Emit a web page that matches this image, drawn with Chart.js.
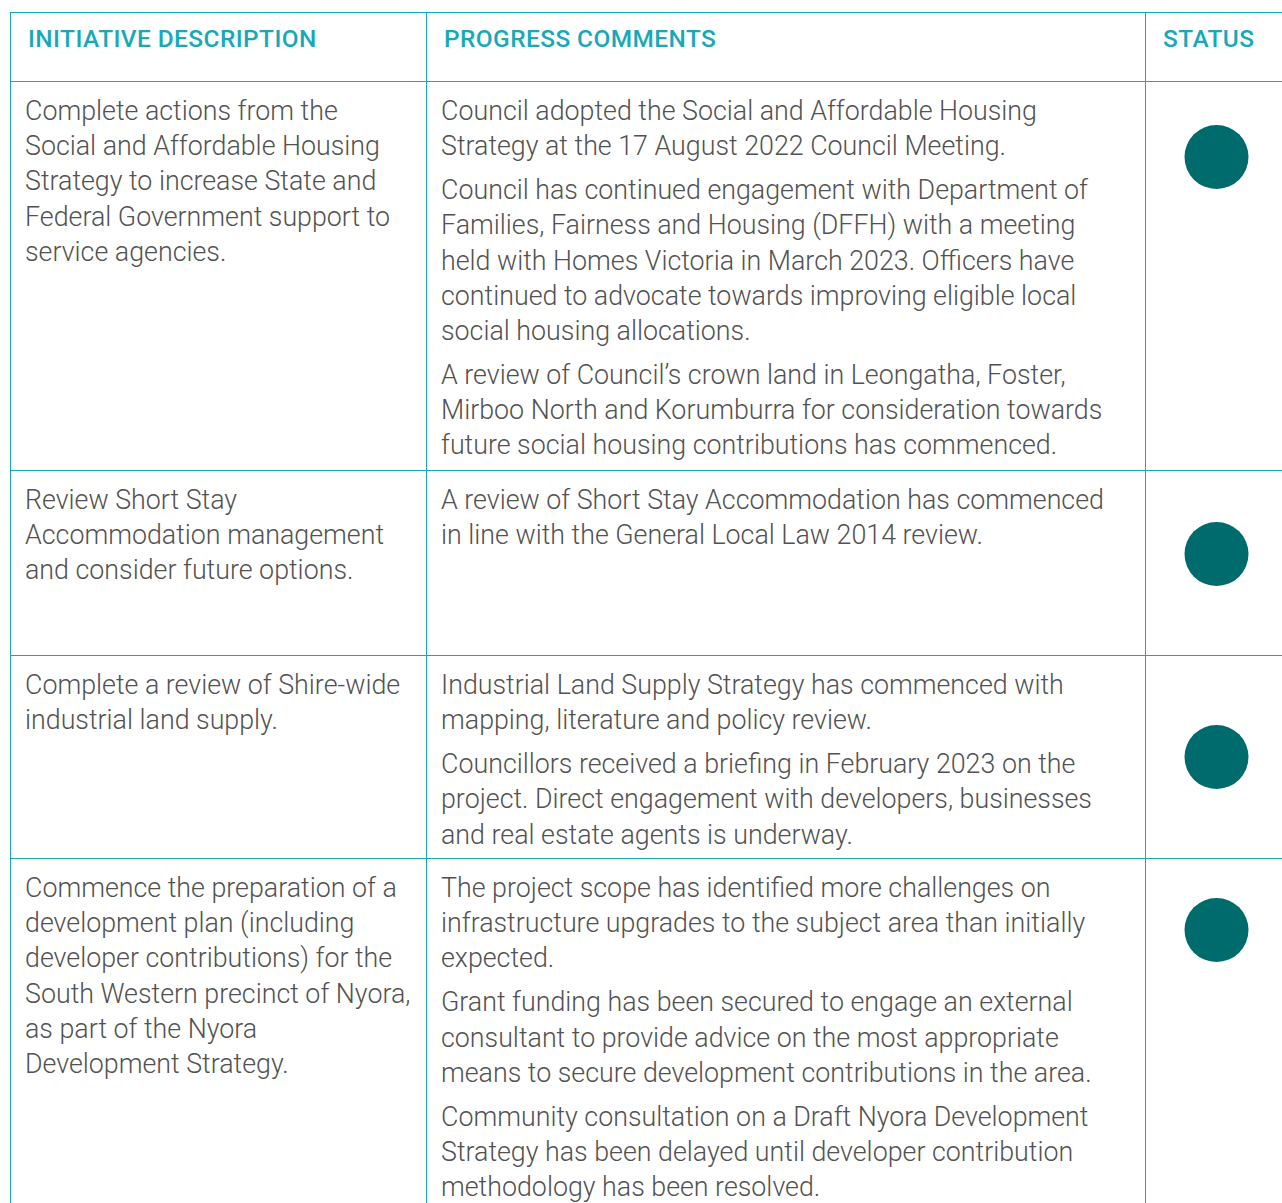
<!DOCTYPE html>
<html>
<head>
<meta charset="utf-8">
<script src="https://cdn.jsdelivr.net/npm/chart.js@4/dist/chart.umd.min.js"></script>
<style>
  html, body { margin: 0; padding: 0; background: #fff; overflow: hidden; }
  body { width: 1282px; height: 1203px; position: relative; font-family: Roboto, "Noto Sans", sans-serif; }
  #grid { position: absolute; left: 10px; top: 12px; width: 1300px; height: 1200px; }
  .row { position: absolute; left: 0; width: 1300px; border-top: 1px solid #17a9b8; box-sizing: border-box; }
  .cell { position: absolute; top: 0; bottom: 0; box-sizing: border-box; border-left: 1px solid #17a9b8; }
  .head { color: #17a9b8; font-weight: 500; font-size: 24.4px; letter-spacing: 0.45px; padding: 11px 0 0 17px; }
  .body { color: #525252; font-weight: 300; font-size: 26.8px; line-height: 35.2px; padding: 12px 0 0 14px; white-space: nowrap; }
  .body p { margin: 0 0 8.8px 0; }
  .dot { position: absolute; left: 0; }
</style>
</head>
<body>
<div id="grid"></div>
<script>
// column headers
const headers = ['INITIATIVE DESCRIPTION', 'PROGRESS COMMENTS', 'STATUS'];

// initiative text, one entry per line
const initiatives = [
  ['Complete actions from the', 'Social and Affordable Housing', 'Strategy to increase State and', 'Federal Government support to', 'service agencies.'],
  ['Review Short Stay', 'Accommodation management', 'and consider future options.'],
  ['Complete a review of Shire-wide', 'industrial land supply.'],
  ['Commence the preparation of a', 'development plan (including', 'developer contributions) for the', 'South Western precinct of Nyora,', 'as part of the Nyora', 'Development Strategy.']
];

// progress comments: paragraphs, each a list of lines
const comments = [
  [
    ['Council adopted the Social and Affordable Housing', 'Strategy at the 17 August 2022 Council Meeting.'],
    ['Council has continued engagement with Department of', 'Families, Fairness and Housing (DFFH) with a meeting', 'held with Homes Victoria in March 2023. Officers have', 'continued to advocate towards improving eligible local', 'social housing allocations.'],
    ['A review of Council\u2019s crown land in Leongatha, Foster,', 'Mirboo North and Korumburra for consideration towards', 'future social housing contributions has commenced.']
  ],
  [
    ['A review of Short Stay Accommodation has commenced', 'in line with the General Local Law 2014 review.']
  ],
  [
    ['Industrial Land Supply Strategy has commenced with', 'mapping, literature and policy review.'],
    ['Councillors received a briefing in February 2023 on the', 'project. Direct engagement with developers, businesses', 'and real estate agents is underway.']
  ],
  [
    ['The project scope has identified more challenges on', 'infrastructure upgrades to the subject area than initially', 'expected.'],
    ['Grant funding has been secured to engage an external', 'consultant to provide advice on the most appropriate', 'means to secure development contributions in the area.'],
    ['Community consultation on a Draft Nyora Development', 'Strategy has been delayed until developer contribution', 'methodology has been resolved.']
  ]
];

// status of each initiative
const statuses = ['On track', 'On track', 'On track', 'On track'];
const statusLabels = ['On track'];
const statusColors = { 'On track': '#006b6d' };

// layout (pixels, relative to grid top)
const rowEdges = [0, 69, 458, 643, 846, 1200];
const colEdges = [0, 416, 1135];
const dotCenters = [75, 83, 101, 71];   // dot centre below row top
const dotBox = { w: 141, h: 90 };

const grid = document.getElementById('grid');

function makeRow(i) {
  const r = document.createElement('div');
  r.className = 'row';
  r.style.top = rowEdges[i] + 'px';
  r.style.height = (rowEdges[i + 1] - rowEdges[i]) + 'px';
  grid.appendChild(r);
  return r;
}
function makeCell(row, c, cls) {
  const d = document.createElement('div');
  d.className = 'cell ' + cls;
  d.style.left = colEdges[c] + 'px';
  d.style.width = ((colEdges[c + 1] || 1300) - colEdges[c]) + 'px';
  row.appendChild(d);
  return d;
}

// header row
const hr = makeRow(0);
headers.forEach((h, c) => {
  const d = makeCell(hr, c, 'head');
  d.textContent = h;
});

// body rows
initiatives.forEach((lines, i) => {
  const r = makeRow(i + 1);
  makeCell(r, 0, 'body').innerHTML = lines.join('<br>');
  makeCell(r, 1, 'body').innerHTML = comments[i].map(p => '<p>' + p.join('<br>') + '</p>').join('');
  const sc = makeCell(r, 2, '');
  const cv = document.createElement('canvas');
  cv.className = 'dot';
  cv.width = dotBox.w; cv.height = dotBox.h;
  cv.style.top = (dotCenters[i] - dotBox.h / 2) + 'px';
  sc.appendChild(cv);

  new Chart(cv, {
    type: 'line',
    data: {
      labels: ['Status'],
      datasets: [{
        data: [statuses[i]],
        showLine: false,
        pointRadius: 32,
        pointHoverRadius: 32,
        pointBorderWidth: 0,
        pointBackgroundColor: statusColors[statuses[i]],
        borderColor: statusColors[statuses[i]]
      }]
    },
    options: {
      responsive: false,
      animation: false,
      layout: { padding: 0 },
      plugins: { legend: { display: false }, tooltip: { enabled: false } },
      scales: {
        x: { type: 'category', offset: true, display: false },
        y: { type: 'category', labels: statusLabels, offset: true, display: false }
      }
    }
  });
});
</script>
</body>
</html>
